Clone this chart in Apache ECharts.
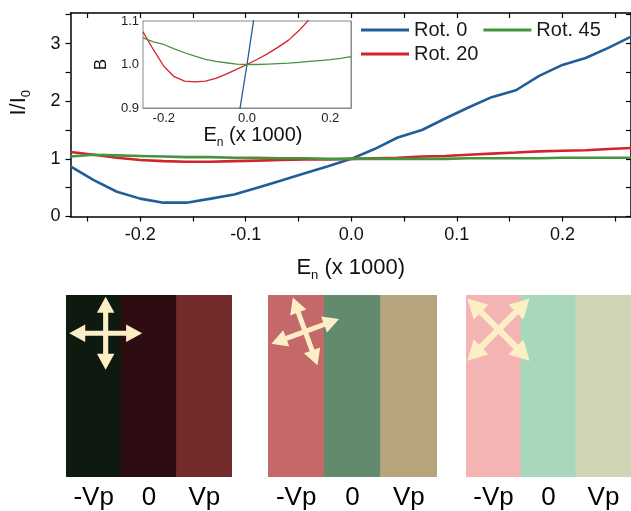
<!DOCTYPE html>
<html>
<head>
<meta charset="utf-8">
<script src="https://cdn.jsdelivr.net/npm/echarts@6/dist/echarts.min.js"></script>
<style>
html,body{margin:0;padding:0;background:#fff;}
#c{width:631px;height:511px;}
</style>
</head>
<body>
<div id="c"></div>
<script>
// ---- main plot data ----
var xMain = [-0.266,-0.244,-0.222,-0.2,-0.178,-0.156,-0.133,-0.111,-0.089,-0.067,-0.044,-0.022,0,0.022,0.044,0.067,0.089,0.111,0.133,0.156,0.178,0.2,0.222,0.244,0.266];
var rot0Main  = [0.87,0.63,0.43,0.31,0.24,0.24,0.31,0.38,0.50,0.62,0.75,0.87,1.0,1.17,1.37,1.50,1.70,1.89,2.07,2.19,2.44,2.63,2.75,2.93,3.13];
var rot20Main = [1.12,1.07,1.02,0.98,0.96,0.95,0.95,0.96,0.97,0.98,0.99,0.99,1.0,1.01,1.02,1.04,1.05,1.07,1.09,1.11,1.13,1.14,1.15,1.17,1.19];
var rot45Main = [1.04,1.07,1.06,1.05,1.04,1.03,1.03,1.02,1.02,1.01,1.01,1.0,1.0,1.0,1.0,1.0,1.0,1.01,1.01,1.01,1.01,1.02,1.02,1.02,1.02];
var xTicksMain = [-0.2,-0.1,0.0,0.1,0.2];
var yTicksMain = [0,1,2,3];

// ---- inset data ----
var xInset = [-0.25,-0.225,-0.2,-0.175,-0.15,-0.125,-0.1,-0.075,-0.05,-0.025,0,0.025,0.05,0.075,0.1,0.125,0.15,0.175,0.2,0.225,0.25];
var rot0Inset  = [null,null,null,null,null,null,null,null,0.70,0.85,1.0,1.16,1.33,null,null,null,null,null,null,null,null];
var rot20Inset = [1.075,1.034,0.996,0.972,0.962,0.960,0.962,0.968,0.978,0.989,1.0,1.012,1.025,1.040,1.056,1.078,1.104,1.13,1.16,1.19,1.22];
var rot45Inset = [1.061,1.052,1.046,1.036,1.027,1.019,1.012,1.007,1.004,1.001,1.0,1.0,1.001,1.002,1.003,1.005,1.007,1.009,1.011,1.014,1.018];
var xTicksInset = [-0.2,0.0,0.2];
var yTicksInset = [0.9,1.0,1.1];

// ---- bottom panels ----
var stripeLabels = ['-Vp','0','Vp'];
var panelColors = [
  ['#0e1a10','#2d0d11','#732a2b'],
  ['#c4686a','#648a6d','#b5a47c'],
  ['#f5b4b4','#a9d7bb','#cfd4b5']
];
var arrowAngles = [0,20,45];
var arrowY = [0.79,0.80,0.81];

var FONT = 'Liberation Sans, Arial, sans-serif';
var C0 = '#1f5e9a', C20 = '#d3232b', C45 = '#45953c';

function pairs(xs, ys){ return xs.map(function(x,i){ return [x, ys[i]]; }); }
function range(a,b,s){ var r=[]; for(var v=a; v<=b+1e-9; v+=s) r.push(Math.round(v*1000)/1000); return r; }

var chart = echarts.init(document.getElementById('c'), null, {renderer:'canvas'});

var grids = [
  {left:69, top:13, width:563, height:203.5, containLabel:false},
  {left:143, top:21, width:208, height:87, show:true, backgroundColor:'#fff', borderColor:'#8a8a8a', borderWidth:1, z:5},
  {left:66, top:295, width:166, height:182},
  {left:268, top:295, width:169, height:182},
  {left:466, top:295, width:170, height:182}
];

var xAxes = [
  { gridIndex:0, type:'value', min:-0.266, max:0.265, position:'bottom',
    axisLine:{show:true, onZero:false, lineStyle:{color:'#000',width:1.5}},
    axisTick:{show:true, inside:false, length:5, customValues:range(-0.25,0.25,0.05), lineStyle:{color:'#000',width:1.2}},
    axisLabel:{show:true, customValues:xTicksMain, margin:10, fontSize:18, color:'#111', fontFamily:FONT, formatter:function(v){return v.toFixed(1);}},
    splitLine:{show:false},
    name:'{a|E}{s|n}{a| (x 1000)}', nameLocation:'middle', nameGap:38,
    nameTextStyle:{fontFamily:FONT, color:'#111', rich:{a:{fontSize:22,fontFamily:FONT,color:'#111'}, s:{fontSize:13,fontFamily:FONT,color:'#111',padding:[14,0,0,0]}}}
  },
  { gridIndex:0, type:'value', min:-0.266, max:0.265, position:'top',
    axisLine:{show:true, onZero:false, lineStyle:{color:'#000',width:1.5}},
    axisTick:{show:true, inside:true, length:5, customValues:range(-0.25,0.25,0.05), lineStyle:{color:'#000',width:1.2}},
    axisLabel:{show:false}, splitLine:{show:false}
  },
  { gridIndex:1, type:'value', min:-0.25, max:0.25, position:'bottom',
    axisLine:{show:true, onZero:false, lineStyle:{color:'#8a8a8a',width:1}},
    axisTick:{show:true, inside:true, length:3, customValues:range(-0.25,0.25,0.05), lineStyle:{color:'#8a8a8a'}},
    axisLabel:{show:true, customValues:xTicksInset, margin:4, fontSize:13, color:'#222', fontFamily:FONT, formatter:function(v){return v.toFixed(1);}},
    splitLine:{show:false},
    name:'{a|E}{s|n}{a| (x 1000)}', nameLocation:'middle', nameGap:14,
    nameTextStyle:{fontFamily:FONT, color:'#111', padding:[0,0,0,12], rich:{a:{fontSize:20,fontFamily:FONT,color:'#111'}, s:{fontSize:12,fontFamily:FONT,color:'#111',padding:[13,0,0,0]}}}
  },
  { gridIndex:1, type:'value', min:-0.25, max:0.25, position:'top',
    axisLine:{show:true, onZero:false, lineStyle:{color:'#8a8a8a',width:1}},
    axisTick:{show:true, inside:true, length:3, customValues:range(-0.25,0.25,0.05), lineStyle:{color:'#8a8a8a'}},
    axisLabel:{show:false}, splitLine:{show:false}
  }
];
var yAxes = [
  { gridIndex:0, type:'value', min:0, max:3.53, position:'left',
    axisLine:{show:true, onZero:false, lineStyle:{color:'#000',width:1.5}},
    axisTick:{show:true, inside:false, length:5, customValues:range(0,3.5,0.5), lineStyle:{color:'#000',width:1.2}},
    axisLabel:{show:true, customValues:yTicksMain, margin:10, fontSize:18, color:'#111', fontFamily:FONT},
    splitLine:{show:false},
    name:'{a|I/I}{s|0}', nameLocation:'middle', nameGap:38, nameRotate:90,
    nameTextStyle:{fontFamily:FONT, color:'#111', padding:[0,0,0,24], rich:{a:{fontSize:22,fontFamily:FONT,color:'#111'}, s:{fontSize:13,fontFamily:FONT,color:'#111',padding:[14,0,0,0]}}}
  },
  { gridIndex:0, type:'value', min:0, max:3.53, position:'right',
    axisLine:{show:true, onZero:false, lineStyle:{color:'#000',width:1.5}},
    axisTick:{show:true, inside:true, length:5, customValues:range(0,3.5,0.5), lineStyle:{color:'#000',width:1.2}},
    axisLabel:{show:false}, splitLine:{show:false}
  },
  { gridIndex:1, type:'value', min:0.9, max:1.1, position:'left',
    axisLine:{show:true, onZero:false, lineStyle:{color:'#8a8a8a',width:1}},
    axisTick:{show:true, inside:true, length:3, customValues:range(0.9,1.1,0.05), lineStyle:{color:'#8a8a8a'}},
    axisLabel:{show:true, customValues:yTicksInset, margin:4, fontSize:13, color:'#222', fontFamily:FONT, formatter:function(v){return v.toFixed(1);}},
    splitLine:{show:false},
    name:'B', nameLocation:'middle', nameGap:33, nameRotate:90,
    nameTextStyle:{fontFamily:FONT, color:'#111', fontSize:17}
  },
  { gridIndex:1, type:'value', min:0.9, max:1.1, position:'right',
    axisLine:{show:true, onZero:false, lineStyle:{color:'#8a8a8a',width:1}},
    axisTick:{show:true, inside:true, length:3, customValues:range(0.9,1.1,0.05), lineStyle:{color:'#8a8a8a'}},
    axisLabel:{show:false}, splitLine:{show:false}
  }
];

// bottom panel axes
for (var p=0;p<3;p++){
  xAxes.push({ gridIndex:2+p, type:'category', data:stripeLabels,
    axisLine:{show:false}, axisTick:{show:false},
    axisLabel:{show:true, fontSize:26, color:'#000', fontFamily:FONT, margin:8} });
  yAxes.push({ gridIndex:2+p, type:'value', min:0, max:1, show:false });
}

var arrowPath = 'path://M50 0 L62 22 L53.5 22 L53.5 46.5 L78 46.5 L78 38 L100 50 L78 62 L78 53.5 L53.5 53.5 L53.5 78 L62 78 L50 100 L38 78 L46.5 78 L46.5 53.5 L22 53.5 L22 62 L0 50 L22 38 L22 46.5 L46.5 46.5 L46.5 22 L38 22 Z';
var arrowSizes = [73,72,88];
var arrowOffsets = [[12,0],[9,0],[5,0]];

var lineCommon = {type:'line', symbol:'none', smooth:false, clip:true};
var series = [
  Object.assign({}, lineCommon, {name:'Rot. 0', xAxisIndex:0, yAxisIndex:0, data:pairs(xMain, rot0Main), lineStyle:{color:C0,width:2.6}, itemStyle:{color:C0}, z:3}),
  Object.assign({}, lineCommon, {name:'Rot. 20', xAxisIndex:0, yAxisIndex:0, data:pairs(xMain, rot20Main), lineStyle:{color:C20,width:2.6}, itemStyle:{color:C20}, z:3}),
  Object.assign({}, lineCommon, {name:'Rot. 45', xAxisIndex:0, yAxisIndex:0, data:pairs(xMain, rot45Main), lineStyle:{color:C45,width:2.6}, itemStyle:{color:C45}, z:4}),
  Object.assign({}, lineCommon, {name:'Rot. 0', xAxisIndex:2, yAxisIndex:2, data:pairs(xInset, rot0Inset), lineStyle:{color:C0,width:1.3}, itemStyle:{color:C0}, z:6}),
  Object.assign({}, lineCommon, {name:'Rot. 20', xAxisIndex:2, yAxisIndex:2, data:pairs(xInset, rot20Inset), lineStyle:{color:C20,width:1.3}, itemStyle:{color:C20}, z:6}),
  Object.assign({}, lineCommon, {name:'Rot. 45', xAxisIndex:2, yAxisIndex:2, data:pairs(xInset, rot45Inset), lineStyle:{color:C45,width:1.3}, itemStyle:{color:C45}, z:6})
];

for (var q=0;q<3;q++){
  series.push({ type:'bar', xAxisIndex:4+q, yAxisIndex:4+q, barWidth:'102%', barCategoryGap:'0%', silent:true,
    data: panelColors[q].map(function(c){ return {value:1, itemStyle:{color:c}}; }) });
  series.push({ type:'scatter', xAxisIndex:4+q, yAxisIndex:4+q, silent:true, z:10,
    symbol:arrowPath, symbolSize:arrowSizes[q], symbolRotate:arrowAngles[q], symbolOffset:arrowOffsets[q],
    itemStyle:{color:'#fcefc5', opacity:1},
    data:[[stripeLabels[0], arrowY[q]]] });
}

var legendText = {fontSize:20, color:'#1a1a1a', fontFamily:FONT};
chart.setOption({
  animation:false,
  backgroundColor:'#fff',
  grid:grids,
  xAxis:xAxes,
  yAxis:yAxes,
  legend:[
    {data:['Rot. 0','Rot. 45'], left:356, top:15, orient:'horizontal', icon:'rect', itemWidth:48, itemHeight:3, itemGap:16, textStyle:legendText, selectedMode:false},
    {data:['Rot. 20'], left:356, top:39, orient:'horizontal', icon:'rect', itemWidth:48, itemHeight:3, textStyle:legendText, selectedMode:false}
  ],
  series:series
});
</script>
</body>
</html>
